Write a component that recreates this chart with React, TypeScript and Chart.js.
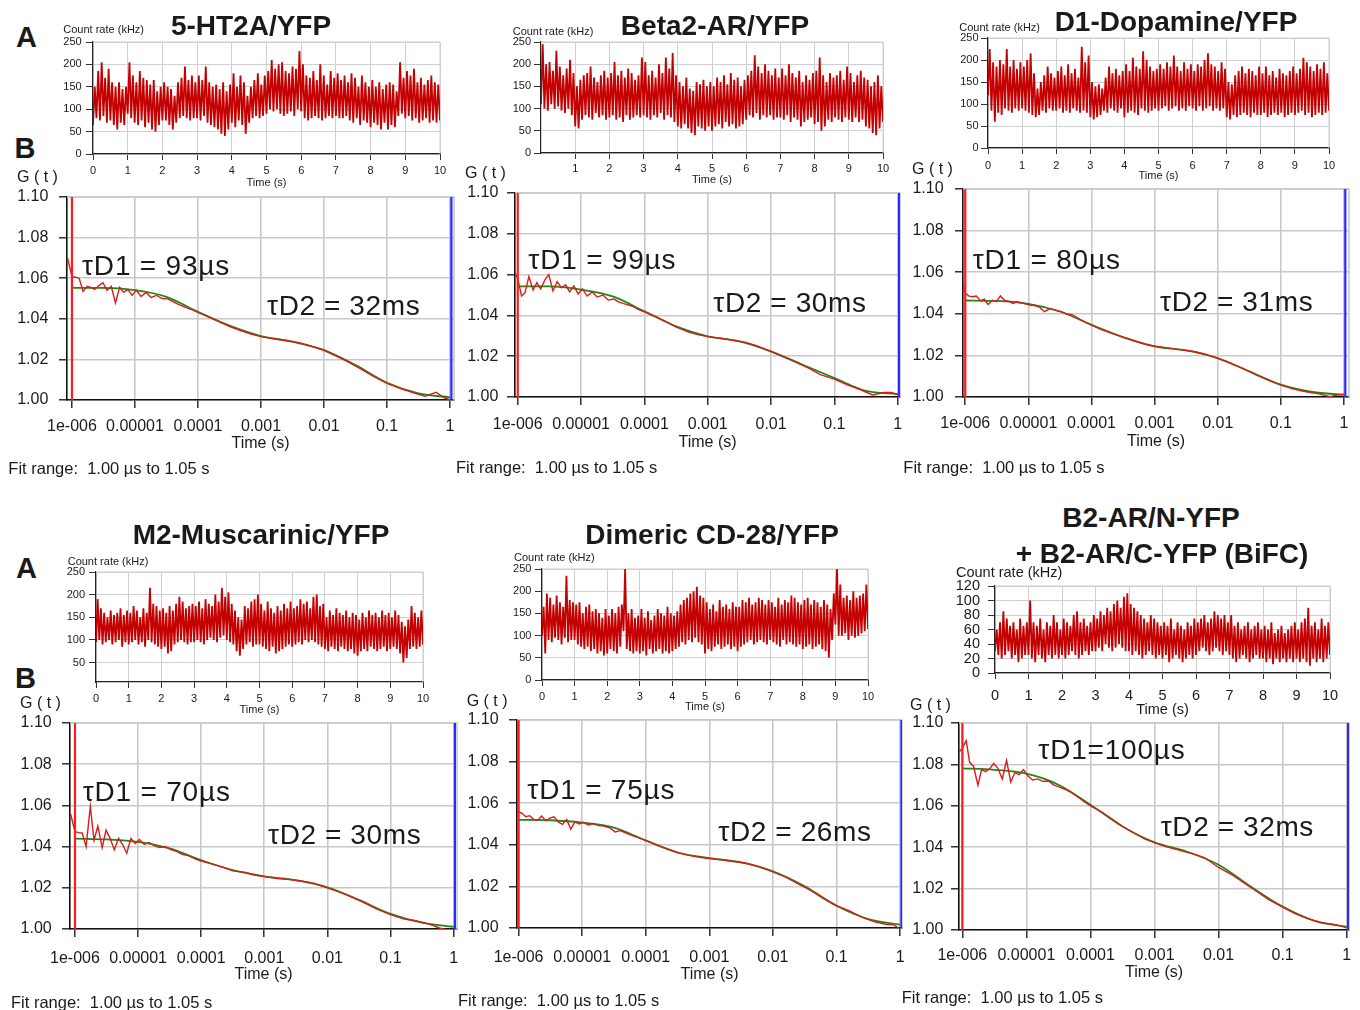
import React, { useEffect, useRef } from 'react';
import { Chart, registerables } from 'chart.js';

Chart.register(...registerables);

const FONT = '"Liberation Sans", Arial, Helvetica, sans-serif';
Chart.defaults.font.family = FONT;

// ================= DATA =================
// Count-rate traces (kHz): local lows at t = k*0.1 s, local highs at t = k*0.1 + 0.05 s
const CR_STEP = 0.1;

const cr1Low = [
  65, 80, 75, 85, 70, 75, 65, 55, 70, 65,
  90, 80, 70, 65, 75, 60, 70, 55, 50, 65,
  75, 75, 65, 55, 70, 80, 85, 80, 75, 80,
  80, 75, 85, 70, 65, 60, 55, 45, 40, 55,
  70, 60, 75, 65, 45, 70, 80, 85, 80, 85,
  90, 100, 95, 100, 90, 85, 90, 95, 85, 100,
  95, 80, 75, 80, 85, 80, 75, 80, 85, 80,
  85, 80, 80, 85, 75, 70, 80, 65, 75, 70,
  60, 70, 65, 55, 70, 55, 65, 60, 85, 90,
  80, 85, 75, 80, 70, 75, 80, 70, 75, 70,
  75,
];
const cr1High = [
  150, 185, 205, 170, 190, 160, 150, 160, 145, 150,
  205, 175, 160, 185, 170, 165, 155, 165, 140, 150,
  160, 150, 145, 130, 160, 170, 195, 165, 175, 160,
  175, 165, 195, 160, 150, 155, 145, 160, 140, 155,
  180, 150, 175, 160, 130, 150, 165, 180, 155, 175,
  185, 210, 190, 200, 205, 185, 180, 195, 190, 230,
  200, 175, 170, 185, 165, 200, 175, 155, 185, 170,
  180, 165, 175, 160, 180, 170, 150, 175, 160, 150,
  165, 150, 160, 145, 155, 160, 155, 140, 205, 170,
  185, 175, 190, 160, 170, 155, 165, 175, 160, 155,
];

const cr2Low = [
  110, 100, 95, 110, 100, 105, 95, 90, 100, 85,
  60, 55, 75, 85, 80, 75, 90, 80, 85, 75,
  80, 85, 75, 80, 70, 85, 75, 80, 85, 80,
  85, 80, 75, 85, 80, 90, 75, 85, 80, 70,
  60, 55, 65, 55, 45, 40, 60, 55, 50, 60,
  50, 60, 65, 55, 70, 60, 65, 55, 60, 65,
  75, 85, 80, 90, 75, 85, 80, 85, 75, 80,
  80, 75, 85, 70, 80, 75, 60, 70, 75, 80,
  65, 70, 50, 60, 75, 70, 80, 75, 70, 80,
  75, 70, 80, 70, 75, 60, 55, 45, 40, 55,
  70,
];
const cr2High = [
  245, 200, 205, 185, 230, 195, 175, 190, 210, 180,
  150, 165, 175, 180, 195, 170, 160, 175, 185, 170,
  180, 205, 175, 185, 170, 190, 180, 165, 175, 215,
  205, 175, 185, 170, 200, 180, 215, 190, 225, 175,
  160, 150, 170, 145, 140, 160, 155, 165, 150, 160,
  150, 170, 160, 175, 155, 180, 165, 170, 150, 165,
  175, 185, 220, 195, 180, 200, 185, 175, 190, 170,
  190, 175, 200, 180, 170, 185, 160, 175, 165, 180,
  185, 215, 175, 160, 180, 170, 175, 185, 165, 195,
  180, 160, 175, 185, 170, 165, 150, 160, 175, 150,
];

const cr3Low = [
  120, 85, 60, 80, 75, 90, 85, 80, 90, 85,
  90, 85, 80, 75, 70, 75, 85, 80, 90, 85,
  85, 90, 80, 85, 80, 90, 85, 80, 85, 80,
  70, 65, 70, 75, 85, 80, 90, 85, 80, 90,
  70, 80, 85, 80, 75, 90, 85, 80, 85, 90,
  85, 90, 95, 85, 90, 95, 85, 90, 85, 95,
  90, 85, 95, 85, 90, 95, 85, 90, 85, 90,
  70, 65, 75, 70, 75, 80, 75, 70, 80, 75,
  75, 80, 70, 75, 80, 75, 80, 70, 75, 80,
  75, 80, 85, 75, 80, 70, 75, 80, 75, 80,
  85,
];
const cr3High = [
  225, 195, 185, 200, 190, 225, 185, 200, 180, 195,
  185, 200, 215, 170, 135, 150, 165, 185, 170, 160,
  175, 185, 165, 190, 170, 180, 160, 230, 195, 210,
  150, 140, 145, 135, 160, 185, 170, 180, 165, 175,
  190, 175, 205, 185, 180, 220, 200, 185, 175, 180,
  190, 180, 195, 185, 210, 185, 175, 195, 180, 190,
  175, 190, 185, 200, 215, 190, 185, 175, 195, 180,
  150, 145, 165, 175, 185, 170, 180, 175, 165, 185,
  170, 185, 165, 175, 160, 180, 170, 165, 175, 185,
  170, 180, 205, 195, 185, 175, 190, 180, 195, 170,
];

const cr4Low = [
  95, 100, 90, 95, 100, 90, 95, 100, 85, 95,
  90, 95, 100, 90, 95, 85, 100, 95, 90, 85,
  80, 85, 70, 75, 90, 95, 100, 95, 90, 95,
  95, 100, 95, 90, 100, 105, 100, 95, 105, 110,
  100, 95, 90, 75, 65, 80, 90, 95, 85, 90,
  90, 85, 80, 75, 85, 70, 75, 80, 85, 90,
  85, 90, 95, 90, 100, 95, 100, 95, 90, 85,
  80, 75, 85, 80, 75, 85, 80, 75, 80, 70,
  65, 75, 80, 75, 85, 80, 75, 80, 85, 75,
  80, 85, 80, 70, 50, 60, 80, 85, 80, 85,
  90,
];
const cr4High = [
  190, 170, 160, 150, 165, 155, 160, 170, 155, 165,
  160, 175, 165, 150, 170, 160, 215, 180, 175, 165,
  170, 160, 175, 165, 180, 195, 185, 170, 175, 180,
  175, 185, 170, 190, 180, 175, 200, 185, 215, 195,
  205, 180, 165, 150, 145, 175, 170, 185, 190, 200,
  180, 165, 185, 170, 160, 175, 165, 180, 170, 185,
  170, 175, 190, 180, 185, 170, 195, 200, 175, 180,
  150, 165, 155, 170, 160, 155, 165, 150, 160, 155,
  145, 160, 150, 165, 155, 160, 150, 165, 155, 160,
  150, 165, 155, 140, 130, 145, 175, 160, 150, 165,
];

const cr5Low = [
  100, 60, 90, 85, 95, 90, 80, 95, 85, 90,
  90, 80, 75, 70, 75, 65, 70, 60, 65, 55,
  60, 70, 65, 60, 75, 110, 70, 65, 60, 65,
  60, 65, 55, 70, 60, 65, 70, 60, 65, 60,
  65, 70, 75, 85, 80, 90, 85, 95, 85, 80,
  60, 70, 65, 75, 80, 70, 75, 80, 70, 75,
  65, 75, 80, 85, 90, 80, 85, 90, 85, 80,
  90, 85, 80, 75, 90, 80, 85, 80, 75, 80,
  70, 75, 80, 70, 75, 80, 70, 65, 50, 90,
  125, 100, 100, 105, 90, 100, 95, 100, 105, 110,
  115,
];
const cr5High = [
  165, 195, 185, 170, 190, 175, 165, 235, 180, 175,
  170, 175, 150, 165, 170, 155, 160, 150, 140, 160,
  145, 160, 150, 165, 170, 250, 150, 160, 140, 145,
  160, 140, 155, 135, 145, 160, 150, 145, 165, 150,
  145, 155, 170, 180, 185, 195, 200, 210, 190, 185,
  175, 160, 170, 155, 180, 165, 170, 160, 175, 165,
  165, 180, 175, 185, 170, 175, 185, 180, 170, 180,
  175, 165, 185, 170, 180, 175, 190, 185, 175, 170,
  180, 185, 170, 180, 175, 165, 180, 170, 160, 195,
  250, 215, 185, 190, 180, 200, 185, 190, 195, 215,
];

const cr6Low = [
  30, 25, 20, 25, 30, 20, 25, 15, 20, 25,
  25, 20, 15, 25, 20, 15, 25, 20, 25, 20,
  25, 20, 25, 30, 25, 20, 25, 30, 25, 30,
  30, 35, 30, 40, 35, 30, 35, 40, 35, 30,
  30, 25, 30, 25, 20, 25, 30, 25, 20, 25,
  20, 25, 15, 20, 25, 20, 15, 20, 25, 20,
  25, 30, 35, 30, 25, 30, 35, 30, 25, 30,
  25, 20, 15, 20, 25, 20, 15, 20, 25, 20,
  20, 15, 20, 12, 20, 15, 20, 15, 20, 15,
  20, 15, 20, 15, 10, 20, 15, 20, 15, 20,
  25,
];
const cr6High = [
  60, 70, 85, 75, 65, 70, 60, 75, 65, 70,
  100, 70, 65, 75, 60, 70, 65, 80, 70, 60,
  75, 70, 65, 80, 85, 70, 75, 65, 70, 80,
  75, 85, 80, 90, 85, 95, 100, 90, 105, 110,
  95, 90, 85, 80, 75, 70, 80, 75, 70, 65,
  70, 65, 75, 60, 70, 65, 60, 70, 65, 75,
  70, 75, 80, 70, 75, 85, 80, 75, 80, 70,
  80, 65, 70, 60, 65, 70, 60, 65, 70, 60,
  65, 60, 70, 55, 60, 65, 55, 60, 65, 70,
  60, 70, 75, 90, 65, 70, 60, 75, 65, 70,
];

const CR_X_TICKS = [0, 1, 2, 3, 4, 5, 6, 7, 8, 9, 10];
const CR_X_TICKS_FROM_1 = [1, 2, 3, 4, 5, 6, 7, 8, 9, 10];
const CR_Y_TICKS = [0, 50, 100, 150, 200, 250];
const CR_Y_TICKS_FROM_50 = [50, 100, 150, 200, 250];
const CR_Y_TICKS_BIFC = [0, 20, 40, 60, 80, 100, 120];

// FCS autocorrelation: fitted curve (green) and measured G(t) (red)
const FIT_TIMES = [1e-6, 3.16e-6, 1e-5, 3.16e-5, 1e-4, 3.16e-4, 1e-3, 3.16e-3, 1e-2, 3.16e-2, 0.1, 0.316, 1];
const DATA_TIMES = [
  0.85e-6, 1e-6, 1.15e-6, 1.3e-6, 1.5e-6, 1.75e-6, 2e-6, 2.3e-6, 2.7e-6, 3.1e-6,
  3.6e-6, 4.2e-6, 4.9e-6, 5.7e-6, 6.6e-6, 7.7e-6, 9e-6, 1.05e-5, 1.25e-5, 1.5e-5,
  1.8e-5, 2.2e-5, 2.7e-5, 3.3e-5, 4e-5, 5e-5, 6.5e-5, 8e-5, 1e-4, 1.5e-4,
  2.2e-4, 3.2e-4, 5e-4, 7e-4, 1e-3, 1.6e-3, 2.5e-3, 4e-3, 6e-3, 1e-2,
  1.6e-2, 2.5e-2, 4e-2, 6e-2, 0.1, 0.16, 0.25, 0.4, 0.6, 0.8,
  1.0,
];

const fit1 = [1.0552, 1.0552, 1.0541, 1.0508, 1.0434, 1.0366, 1.0315, 1.0287, 1.0246, 1.0172, 1.0085, 1.0033, 1.0013];
const acf1 = [
  1.0700, 1.0607, 1.0605, 1.0600, 1.0535, 1.0560, 1.0555, 1.0545, 1.0565, 1.0578,
  1.0540, 1.0560, 1.0478, 1.0555, 1.0530, 1.0545, 1.0515, 1.0540, 1.0510, 1.0530,
  1.0505, 1.0515, 1.0500, 1.0498, 1.0485, 1.0470, 1.0455, 1.0445, 1.0432, 1.0408,
  1.0385, 1.0362, 1.0340, 1.0325, 1.0312, 1.0302, 1.0293, 1.0282, 1.0268, 1.0245,
  1.0215, 1.0185, 1.0150, 1.0118, 1.0082, 1.0058, 1.0038, 1.0018, 1.0038, 1.0012,
  1.0000,
];

const fit2 = [1.0542, 1.0542, 1.0526, 1.0493, 1.0420, 1.0346, 1.0297, 1.0273, 1.0224, 1.0158, 1.0093, 1.0030, 1.0015];
const acf2 = [
  1.0630, 1.0580, 1.0495, 1.0510, 1.0590, 1.0525, 1.0560, 1.0530, 1.0575, 1.0600,
  1.0520, 1.0565, 1.0535, 1.0550, 1.0515, 1.0545, 1.0505, 1.0530, 1.0495, 1.0515,
  1.0490, 1.0500, 1.0475, 1.0480, 1.0465, 1.0455, 1.0445, 1.0430, 1.0418, 1.0395,
  1.0370, 1.0342, 1.0318, 1.0306, 1.0296, 1.0288, 1.0278, 1.0268, 1.0250, 1.0222,
  1.0195, 1.0170, 1.0140, 1.0110, 1.0088, 1.0060, 1.0038, 1.0010, 1.0022, 1.0022,
  1.0010,
];

const fit3 = [1.0464, 1.0462, 1.0448, 1.0411, 1.0347, 1.0288, 1.0243, 1.0224, 1.0187, 1.0123, 1.0059, 1.0024, 1.0011];
const acf3 = [
  1.0560, 1.0500, 1.0485, 1.0482, 1.0485, 1.0462, 1.0470, 1.0445, 1.0465, 1.0458,
  1.0486, 1.0465, 1.0460, 1.0450, 1.0458, 1.0452, 1.0448, 1.0442, 1.0440, 1.0432,
  1.0410, 1.0425, 1.0418, 1.0410, 1.0400, 1.0395, 1.0375, 1.0360, 1.0346, 1.0322,
  1.0305, 1.0287, 1.0268, 1.0255, 1.0244, 1.0236, 1.0228, 1.0220, 1.0208, 1.0186,
  1.0162, 1.0138, 1.0108, 1.0085, 1.0057, 1.0038, 1.0025, 1.0015, 1.0002, 1.0010,
  1.0012,
];

const fit4 = [1.0439, 1.0435, 1.0423, 1.0391, 1.0334, 1.0286, 1.0256, 1.0237, 1.0202, 1.0141, 1.0073, 1.0031, 1.0011];
const acf4 = [
  1.0560, 1.0472, 1.0468, 1.0466, 1.0400, 1.0595, 1.0430, 1.0500, 1.0395, 1.0480,
  1.0440, 1.0385, 1.0440, 1.0410, 1.0368, 1.0440, 1.0415, 1.0435, 1.0410, 1.0420,
  1.0405, 1.0395, 1.0400, 1.0385, 1.0378, 1.0362, 1.0355, 1.0340, 1.0330, 1.0315,
  1.0300, 1.0282, 1.0275, 1.0262, 1.0255, 1.0245, 1.0240, 1.0232, 1.0222, 1.0200,
  1.0178, 1.0155, 1.0125, 1.0098, 1.0070, 1.0050, 1.0040, 1.0025, 1.0005, 0.9995,
  0.9998,
];

const fit5 = [1.0520, 1.0518, 1.0507, 1.0483, 1.0421, 1.0363, 1.0336, 1.0315, 1.0272, 1.0200, 1.0107, 1.0043, 1.0016];
const acf5 = [
  1.0565, 1.0560, 1.0550, 1.0535, 1.0540, 1.0520, 1.0518, 1.0538, 1.0515, 1.0528,
  1.0535, 1.0510, 1.0498, 1.0522, 1.0475, 1.0510, 1.0500, 1.0508, 1.0495, 1.0502,
  1.0492, 1.0490, 1.0482, 1.0462, 1.0468, 1.0455, 1.0442, 1.0432, 1.0420, 1.0398,
  1.0380, 1.0362, 1.0348, 1.0340, 1.0334, 1.0328, 1.0320, 1.0310, 1.0295, 1.0270,
  1.0245, 1.0212, 1.0180, 1.0145, 1.0108, 1.0082, 1.0052, 1.0030, 1.0018, 1.0015,
  0.9995,
];

const fit6 = [1.0781, 1.0774, 1.0755, 1.0702, 1.0605, 1.0500, 1.0423, 1.0379, 1.0315, 1.0210, 1.0113, 1.0044, 1.0016];
const acf6 = [
  1.0850, 1.0880, 1.0915, 1.0810, 1.0790, 1.0700, 1.0775, 1.0765, 1.0780, 1.0805,
  1.0780, 1.0730, 1.0820, 1.0715, 1.0760, 1.0750, 1.0775, 1.0745, 1.0725, 1.0730,
  1.0718, 1.0720, 1.0700, 1.0690, 1.0680, 1.0665, 1.0640, 1.0620, 1.0600, 1.0570,
  1.0535, 1.0500, 1.0465, 1.0440, 1.0422, 1.0400, 1.0385, 1.0368, 1.0350, 1.0302,
  1.0268, 1.0228, 1.0185, 1.0148, 1.0110, 1.0078, 1.0055, 1.0035, 1.0028, 1.0020,
  1.0010,
];

const FCS_X_TICKS = [1e-6, 1e-5, 1e-4, 1e-3, 1e-2, 1e-1, 1];
const FCS_X_LABELS = ['1e-006', '0.00001', '0.0001', '0.001', '0.01', '0.1', '1'];
const FCS_Y_TICKS = [1.0, 1.02, 1.04, 1.06, 1.08, 1.1];
const FIT_RANGE_START = 1.0e-6;
const FIT_RANGE_END = 1.05;

const TITLES = ['5-HT2A/YFP', 'Beta2-AR/YFP', 'D1-Dopamine/YFP', 'M2-Muscarinic/YFP', 'Dimeric CD-28/YFP'];
const TITLE_BIFC = ['B2-AR/N-YFP', '+ B2-AR/C-YFP (BiFC)'];
const TAU1 = ['τD1 = 93µs', 'τD1 = 99µs', 'τD1 = 80µs', 'τD1 = 70µs', 'τD1 = 75µs', 'τD1=100µs'];
const TAU2 = ['τD2 = 32ms', 'τD2 = 30ms', 'τD2 = 31ms', 'τD2 = 30ms', 'τD2 = 26ms', 'τD2 = 32ms'];
const FIT_RANGE_TEXT = 'Fit range:  1.00 µs to 1.05 s';

// ================= LAYOUT / STYLE =================
const TEXT = '#1a1a1a';
const AXIS = '#111111';
const GRID = '#c9c9c9';
const TRACE = '#c40000';
const ACF_RED = '#de1a1a';
const FIT_GREEN = '#178a17';

const CR_PANELS = [
  { high: cr1High, low: cr1Low, plot: [93, 42, 440, 154], yMin: 0, yMax: 250, yTicks: CR_Y_TICKS, xTicks: CR_X_TICKS, font: 11, yGap: 11.3, xlOff: 16.7, titleOff: 28.7 },
  { high: cr2High, low: cr2Low, plot: [541, 42, 883, 153], yMin: 0, yMax: 250, yTicks: CR_Y_TICKS, xTicks: CR_X_TICKS_FROM_1, font: 11, yGap: 10, xlOff: 16.3, titleOff: 27.3 },
  { high: cr3High, low: cr3Low, plot: [988, 38, 1329, 148], yMin: 0, yMax: 250, yTicks: CR_Y_TICKS, xTicks: CR_X_TICKS, font: 11, yGap: 9.4, xlOff: 18.3, titleOff: 28.3 },
  { high: cr4High, low: cr4Low, plot: [96, 572, 423, 682], yMin: 7, yMax: 250, yTicks: CR_Y_TICKS_FROM_50, xTicks: CR_X_TICKS, font: 11, yGap: 11, xlOff: 16.7, titleOff: 27.7 },
  { high: cr5High, low: cr5Low, plot: [542, 569, 868, 680], yMin: 0, yMax: 250, yTicks: CR_Y_TICKS, xTicks: CR_X_TICKS, font: 11, yGap: 10.6, xlOff: 16.7, titleOff: 27.3 },
  { high: cr6High, low: cr6Low, plot: [995, 586, 1330, 673], yMin: 0, yMax: 120, yTicks: CR_Y_TICKS_BIFC, xTicks: CR_X_TICKS, font: 14.5, yGap: 15, xlOff: 22.7, titleOff: 36.7 },
];

const FCS_PANELS = [
  { fit: fit1, acf: acf1, plot: [67, 197, 454, 400], xMinExp: -6.079, xMaxExp: 0.063, yGap: 18.7, xlOff: 26.7, titleOff: 43.3 },
  { fit: fit2, acf: acf2, plot: [515, 193, 900, 397], xMinExp: -6.043, xMaxExp: 0.036, yGap: 16.7, xlOff: 27.7, titleOff: 45.7 },
  { fit: fit3, acf: acf3, plot: [963, 189, 1349, 397], xMinExp: -6.036, xMaxExp: 0.08, yGap: 19.4, xlOff: 27, titleOff: 44.4 },
  { fit: fit4, acf: acf4, plot: [70, 723, 457, 929], xMinExp: -6.079, xMaxExp: 0.054, yGap: 18.3, xlOff: 29.3, titleOff: 46 },
  { fit: fit5, acf: acf5, plot: [517, 720, 902, 928], xMinExp: -6.025, xMaxExp: 0.03, yGap: 18.4, xlOff: 30, titleOff: 46.7 },
  { fit: fit6, acf: acf6, plot: [959, 723, 1349, 930], xMinExp: -6.052, xMaxExp: 0.036, yGap: 15.7, xlOff: 25.7, titleOff: 42.7 },
];

const TITLE_POS = [[251, 25.5], [715, 25.5], [1176, 22], [261, 535], [712, 535]];
const TITLE_BIFC_POS = [[1151, 518], [1162, 554]];
const LETTERS = [['A', 26.5, 36.7], ['B', 25, 148], ['A', 26.5, 567.5], ['B', 25.5, 678]];
const CR_LABEL_POS = [[63.3, 29.3, 11], [512.7, 31, 11], [959.3, 26.7, 11], [67.7, 560.7, 11], [514, 557.3, 11], [956, 571.7, 14.5]];
const G_LABEL_POS = [[17, 177], [465, 173], [912, 169.3], [20, 703], [466.7, 701], [910, 705]];
const FIT_TEXT_POS = [[8.3, 468], [456, 467], [903.3, 467.3], [11, 1001.7], [458, 1000], [901.7, 997]];
const TAU1_POS = [[82, 266], [528.3, 260], [972.7, 260], [82.7, 791.7], [527.3, 790], [1038.3, 750]];
const TAU2_POS = [[267, 306], [713.3, 302.7], [1160, 301.7], [268, 835], [718.3, 831.7], [1160.7, 827]];

// ================= CHART HELPERS =================
const framePlugin = {
  id: 'frame',
  defaults: { color: GRID, width: 1 },
  beforeDatasetsDraw(chart: any, _args: any, opts: any) {
    const { ctx, chartArea: a } = chart;
    ctx.save();
    ctx.strokeStyle = opts.color;
    ctx.lineWidth = opts.width;
    ctx.beginPath();
    ctx.moveTo(a.left, a.top);
    ctx.lineTo(a.right, a.top);
    ctx.lineTo(a.right, a.bottom);
    ctx.stroke();
    ctx.restore();
  },
};
Chart.register(framePlugin as any);

const PAD_TOP = 26;
const PAD_RIGHT = 26;

function countRateSpec(p: any) {
  const [L, T, R, B] = p.plot;
  const yAxisW = 48;
  const lh = p.font * 1.2;
  const xAxisH = Math.ceil(p.titleOff + lh / 2);
  const titlePad = xAxisH - p.titleOff - lh / 2;
  const points: { x: number; y: number }[] = [];
  p.low.forEach((v: number, k: number) => {
    points.push({ x: k * CR_STEP, y: v });
    if (k < p.high.length) points.push({ x: k * CR_STEP + CR_STEP / 2, y: p.high[k] });
  });
  const tickFont = { size: p.font, family: FONT };
  const config: any = {
    type: 'line',
    data: {
      datasets: [{ data: points, borderColor: TRACE, borderWidth: 1.8, pointRadius: 0, tension: 0 }],
    },
    options: {
      animation: false,
      responsive: false,
      events: [],
      layout: { autoPadding: false, padding: { left: 0, top: PAD_TOP, right: PAD_RIGHT, bottom: 0 } },
      plugins: { legend: { display: false }, tooltip: { enabled: false }, frame: { color: '#cfcfcf', width: 1 } },
      scales: {
        x: {
          type: 'linear',
          min: 0,
          max: 10,
          afterBuildTicks: (s: any) => { s.ticks = p.xTicks.map((v: number) => ({ value: v })); },
          afterFit: (s: any) => { s.height = xAxisH; },
          ticks: { autoSkip: false, maxRotation: 0, minRotation: 0, padding: p.xlOff - 6 - lh / 2, font: tickFont, color: TEXT, callback: (v: any) => String(v) },
          grid: { color: '#cfcfcf', lineWidth: 1, tickLength: 6, tickColor: '#333', tickWidth: 1 },
          border: { color: '#222', width: 1.2 },
          title: { display: true, text: 'Time (s)', font: tickFont, color: TEXT, padding: { top: 0, bottom: titlePad } },
        },
        y: {
          type: 'linear',
          min: p.yMin,
          max: p.yMax,
          afterBuildTicks: (s: any) => { s.ticks = p.yTicks.map((v: number) => ({ value: v })); },
          afterFit: (s: any) => { s.width = yAxisW; },
          ticks: { autoSkip: false, padding: p.yGap - 7, font: tickFont, color: TEXT, callback: (v: any) => String(v) },
          grid: { color: '#cfcfcf', lineWidth: 1, tickLength: 7, tickColor: '#333', tickWidth: 1 },
          border: { color: '#222', width: 1.2 },
        },
      },
    },
  };
  return { left: L - yAxisW, top: T - PAD_TOP, width: R - L + yAxisW + PAD_RIGHT, height: B - T + PAD_TOP + xAxisH, config };
}

function fcsSpec(p: any) {
  const [L, T, R, B] = p.plot;
  const fs = 16;
  const yAxisW = 62;
  const lh = fs * 1.2;
  const xAxisH = Math.ceil(p.titleOff + lh / 2);
  const titlePad = xAxisH - p.titleOff - lh / 2;
  const yMin = FCS_Y_TICKS[0];
  const yMax = FCS_Y_TICKS[FCS_Y_TICKS.length - 1];
  const font = { size: fs, family: FONT };
  const config: any = {
    type: 'line',
    data: {
      datasets: [
        { data: [{ x: FIT_RANGE_START, y: yMin }, { x: FIT_RANGE_START, y: yMax }], borderColor: '#ff1c1c', borderWidth: 2.2 },
        { data: [{ x: FIT_RANGE_END, y: yMin }, { x: FIT_RANGE_END, y: yMax }], borderColor: '#2a2aff', borderWidth: 2.2 },
        { data: DATA_TIMES.map((t, i) => ({ x: t, y: p.acf[i] })), borderColor: ACF_RED, borderWidth: 1.4 },
        { data: FIT_TIMES.map((t, i) => ({ x: t, y: p.fit[i] })), borderColor: FIT_GREEN, borderWidth: 1.8, cubicInterpolationMode: 'monotone' },
      ],
    },
    options: {
      animation: false,
      responsive: false,
      events: [],
      layout: { autoPadding: false, padding: { left: 0, top: PAD_TOP, right: PAD_RIGHT, bottom: 0 } },
      elements: { point: { radius: 0 }, line: { tension: 0 } },
      plugins: { legend: { display: false }, tooltip: { enabled: false }, frame: { color: GRID, width: 1.6 } },
      scales: {
        x: {
          type: 'logarithmic',
          min: Math.pow(10, p.xMinExp),
          max: Math.pow(10, p.xMaxExp),
          afterBuildTicks: (s: any) => { s.ticks = FCS_X_TICKS.map((v) => ({ value: v })); },
          afterFit: (s: any) => { s.height = xAxisH; },
          ticks: { autoSkip: false, maxRotation: 0, minRotation: 0, padding: p.xlOff - 8 - lh / 2, font, color: TEXT, callback: (_v: any, i: number) => FCS_X_LABELS[i] },
          grid: { color: GRID, lineWidth: 1.6, tickLength: 8, tickColor: AXIS, tickWidth: 1.3 },
          border: { color: AXIS, width: 1.6 },
          title: { display: true, text: 'Time (s)', font, color: TEXT, padding: { top: 0, bottom: titlePad } },
        },
        y: {
          type: 'linear',
          min: yMin,
          max: yMax,
          afterBuildTicks: (s: any) => { s.ticks = FCS_Y_TICKS.map((v) => ({ value: v })); },
          afterFit: (s: any) => { s.width = yAxisW; },
          ticks: { autoSkip: false, padding: p.yGap - 8, font, color: TEXT, callback: (v: any) => Number(v).toFixed(2) },
          grid: { color: GRID, lineWidth: 1.6, tickLength: 8, tickColor: AXIS, tickWidth: 1.3 },
          border: { color: AXIS, width: 1.6 },
        },
      },
    },
  };
  return { left: L - yAxisW, top: T - PAD_TOP, width: R - L + yAxisW + PAD_RIGHT, height: B - T + PAD_TOP + xAxisH, config };
}

function ChartCanvas({ spec }: { spec: any }) {
  const ref = useRef<HTMLCanvasElement | null>(null);
  useEffect(() => {
    if (!ref.current) return;
    const chart = new Chart(ref.current, spec.config);
    return () => chart.destroy();
  }, [spec]);
  return (
    <canvas
      ref={ref}
      width={spec.width}
      height={spec.height}
      style={{ position: 'absolute', left: spec.left, top: spec.top, width: spec.width, height: spec.height }}
    />
  );
}

function Label({ x, y, text, size, bold = false, center = false, spacing = 0 }: any) {
  return (
    <div
      style={{
        position: 'absolute',
        left: x,
        top: y,
        transform: `translate(${center ? '-50%' : '0'}, -50%)`,
        fontSize: size,
        fontWeight: bold ? 700 : 400,
        lineHeight: 1,
        whiteSpace: 'pre',
        letterSpacing: spacing,
        color: TEXT,
        fontFamily: FONT,
      }}
    >
      {text}
    </div>
  );
}

const CR_SPECS = CR_PANELS.map(countRateSpec);
const FCS_SPECS = FCS_PANELS.map(fcsSpec);

export default function App() {
  return (
    <div
      style={{
        position: 'absolute',
        left: 0,
        top: 0,
        width: 1360,
        height: 1010,
        overflow: 'hidden',
        background: '#ffffff',
        fontFamily: FONT,
      }}
    >
      {CR_SPECS.map((s, i) => <ChartCanvas key={'cr' + i} spec={s} />)}
      {FCS_SPECS.map((s, i) => <ChartCanvas key={'fcs' + i} spec={s} />)}

      {TITLES.map((t, i) => <Label key={'t' + i} x={TITLE_POS[i][0]} y={TITLE_POS[i][1]} text={t} size={28} bold center />)}
      {TITLE_BIFC.map((t, i) => <Label key={'tb' + i} x={TITLE_BIFC_POS[i][0]} y={TITLE_BIFC_POS[i][1]} text={t} size={28} bold center />)}
      {LETTERS.map((l, i) => <Label key={'l' + i} x={l[1]} y={l[2]} text={l[0]} size={29} bold center />)}
      {CR_LABEL_POS.map((p, i) => <Label key={'c' + i} x={p[0]} y={p[1]} text="Count rate (kHz)" size={p[2]} />)}
      {G_LABEL_POS.map((p, i) => <Label key={'g' + i} x={p[0]} y={p[1]} text="G ( t )" size={16} />)}
      {FIT_TEXT_POS.map((p, i) => <Label key={'f' + i} x={p[0]} y={p[1]} text={FIT_RANGE_TEXT} size={16.5} />)}
      {TAU1_POS.map((p, i) => <Label key={'a' + i} x={p[0]} y={p[1]} text={TAU1[i]} size={28} spacing={0.8} />)}
      {TAU2_POS.map((p, i) => <Label key={'b' + i} x={p[0]} y={p[1]} text={TAU2[i]} size={28} spacing={0.6} />)}
    </div>
  );
}
